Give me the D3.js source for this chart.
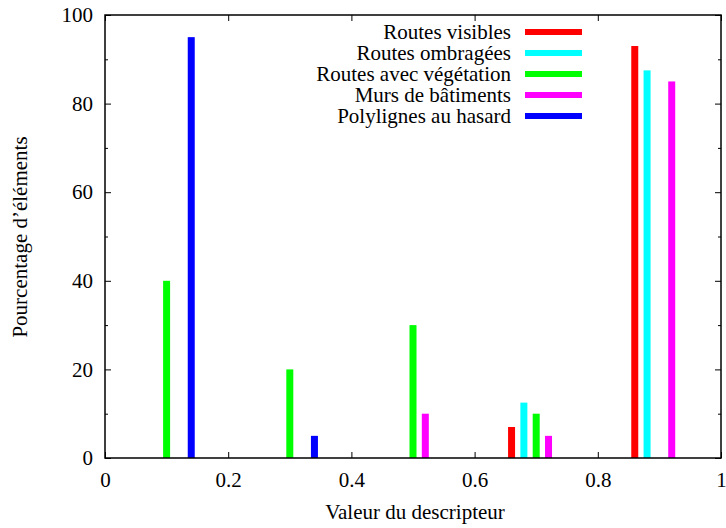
<!DOCTYPE html>
<html><head><meta charset="utf-8">
<script src="https://cdn.jsdelivr.net/npm/d3@7"></script>
<style>body{margin:0;background:#fff}svg{display:block}</style>
</head><body>
<svg id="c" width="726" height="528"></svg>
<script>
const seriesNames = ["Routes visibles","Routes ombragées","Routes avec végétation","Murs de bâtiments","Polylignes au hasard"];
const seriesColors = ["#ff0000","#00ffff","#00ff00","#ff00ff","#0000ff"];
const visiblesX = [0.66, 0.86];
const visiblesY = [7, 93];
const ombrageesX = [0.68, 0.88];
const ombrageesY = [12.5, 87.5];
const vegetationX = [0.10, 0.30, 0.50, 0.70];
const vegetationY = [40, 20, 30, 10];
const mursX = [0.52, 0.72, 0.92];
const mursY = [10, 5, 85];
const polyX = [0.14, 0.34];
const polyY = [95, 5];
const xTicks = [0, 0.2, 0.4, 0.6, 0.8, 1];
const yTicks = [0, 20, 40, 60, 80, 100];

const series = [
  {x: visiblesX, y: visiblesY},
  {x: ombrageesX, y: ombrageesY},
  {x: vegetationX, y: vegetationY},
  {x: mursX, y: mursY},
  {x: polyX, y: polyY}
];

const svg = d3.select("#c");
const L = 105, R = 721, T = 15, B = 458;
const x = d3.scaleLinear().domain([0,1]).range([L,R]);
const y = d3.scaleLinear().domain([0,100]).range([B,T]);
const FS = "21px";
const FF = "Liberation Serif";

// bars
const bw = 7;
series.forEach((s,i) => {
  svg.append("g").selectAll("rect").data(s.x.map((v,k)=>[v,s.y[k]])).join("rect")
    .attr("x", d => x(d[0]) - bw/2)
    .attr("y", d => y(d[1]))
    .attr("width", bw)
    .attr("height", d => y(0) - y(d[1]))
    .attr("fill", seriesColors[i]);
});

// axes
const fmt = d => d3.format("")(d);
svg.append("g").attr("transform", `translate(0,${B})`)
  .call(d3.axisBottom(x).tickValues(xTicks).tickSize(-6).tickPadding(14).tickFormat(fmt));
svg.append("g").attr("transform", `translate(0,${T})`)
  .call(d3.axisTop(x).tickValues(xTicks).tickSize(-6).tickFormat(""));
svg.append("g").attr("transform", `translate(${L},0)`)
  .call(d3.axisLeft(y).tickValues(yTicks).tickSize(-6).tickPadding(12).tickFormat(fmt));
svg.append("g").attr("transform", `translate(${R},0)`)
  .call(d3.axisRight(y).tickValues(yTicks).tickSize(-6).tickFormat(""));
const minor = d3.range(10, 100, 20);
svg.append("g").attr("transform", `translate(${L},0)`)
  .call(d3.axisLeft(y).tickValues(minor).tickSize(-3).tickFormat(""));
svg.append("g").attr("transform", `translate(${R},0)`)
  .call(d3.axisRight(y).tickValues(minor).tickSize(-3).tickFormat(""));
svg.selectAll(".domain").remove();
svg.selectAll(".tick line").attr("stroke", "#000").attr("stroke-width", 1);
svg.selectAll(".tick text").style("font-family", FF).style("font-size", FS).attr("fill", "#000");
svg.append("rect").attr("x", L).attr("y", T).attr("width", R-L).attr("height", B-T)
  .attr("fill", "none").attr("stroke", "#000").attr("stroke-width", 1.5);

// axis labels
svg.append("text").attr("x", (L+R)/2 + 2).attr("y", 519).attr("text-anchor", "middle")
  .style("font-family", FF).style("font-size", FS).text("Valeur du descripteur");
svg.append("text").attr("transform", "translate(27,237) rotate(-90)").attr("text-anchor", "middle")
  .style("font-family", FF).style("font-size", FS).text("Pourcentage d\u2019éléments");

// legend
const lg = svg.append("g");
seriesNames.forEach((n,i) => {
  const yy = 32 + i*21;
  lg.append("text").attr("x", 511).attr("y", yy + 7).attr("text-anchor", "end")
    .style("font-family", FF).style("font-size", FS).text(n);
  lg.append("line").attr("x1", 525).attr("x2", 582).attr("y1", yy).attr("y2", yy)
    .attr("stroke", seriesColors[i]).attr("stroke-width", 6);
});
</script>
</body></html>
